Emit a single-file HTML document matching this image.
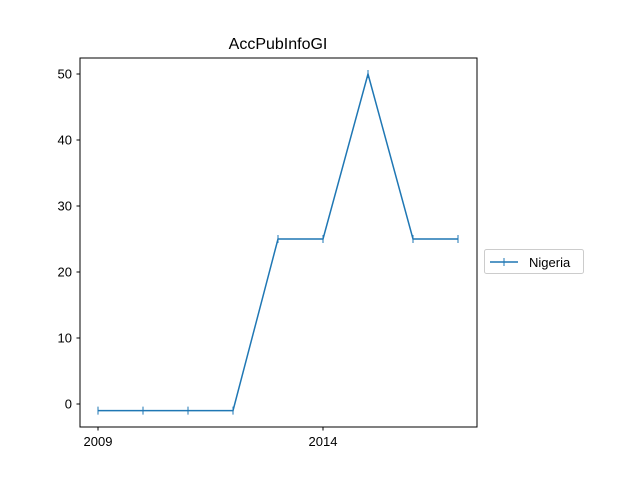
<!DOCTYPE html>
<html><head><meta charset="utf-8"><style>
body{margin:0;background:#fff;}
svg{display:block;font-family:"Liberation Sans","DejaVu Sans",sans-serif;}
</style></head><body>
<svg id="chart" width="640" height="480">
<rect x="0" y="0" width="640" height="480" fill="#fff"/>
<text x="278" y="49" font-size="16" text-anchor="middle">AccPubInfoGI</text>
<g id="plot"></g>
<rect x="80" y="58" width="397" height="369" fill="none" stroke="#000" stroke-width="1"/>
<g>
<rect x="484.5" y="249.5" width="99" height="24" rx="2" fill="#fff" stroke="#ccc"/>
<line x1="490" y1="262" x2="518" y2="262" stroke="#1f77b4" stroke-width="1.5"/>
<line x1="504" y1="258" x2="504" y2="266" stroke="#1f77b4" stroke-width="1"/>
<text x="529" y="267" font-size="13">Nigeria</text>
</g>
</svg>
<script>
const years=[2009,2010,2011,2012,2013,2014,2015,2016,2017];
const values=[-1,-1,-1,-1,25,25,50,25,25];
const yTicks=[0,10,20,30,40,50];
const xTicks=[2009,2014];
const ns="http://www.w3.org/2000/svg";
const g=document.getElementById('plot');
const xs=y=>98+(y-2009)*45;
const ys=v=>404-v*6.6;
function mk(t,a){const e=document.createElementNS(ns,t);for(const k in a)e.setAttribute(k,a[k]);g.appendChild(e);return e;}
yTicks.forEach(v=>{
 const l=mk('line',{x1:76.5,x2:80,y1:ys(v),y2:ys(v),stroke:'#000'});
 
 
 const t=mk('text',{x:72,y:ys(v)+4.5,'font-size':13,'text-anchor':'end'});t.textContent=v;
 
 
});
xTicks.forEach(v=>{
 const l=mk('line',{x1:xs(v),x2:xs(v),y1:427,y2:430.5,stroke:'#000'});
 
 
 const t=mk('text',{x:xs(v),y:446,'font-size':13,'text-anchor':'middle'});t.textContent=v;
 
 
});
const p=mk('polyline',{points:years.map((y,i)=>xs(y)+','+ys(values[i])).join(' '),fill:'none',stroke:'#1f77b4','stroke-width':1.5});


years.forEach((y,i)=>{
 const m=mk('line',{x1:xs(y),x2:xs(y),y1:ys(values[i])-4,y2:ys(values[i])+4,stroke:'#1f77b4'});
 
 
});
</script>
</body></html>
